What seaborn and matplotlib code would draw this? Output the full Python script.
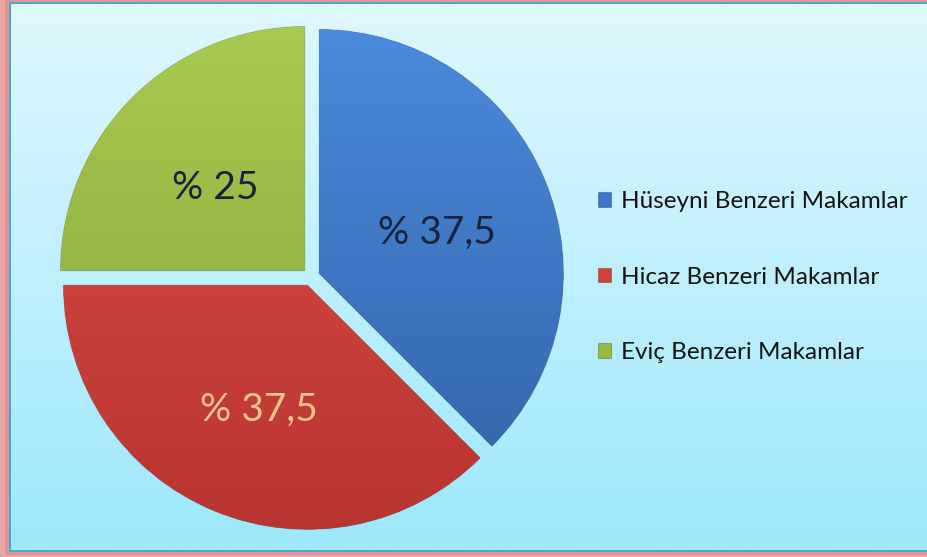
import numpy as np
import matplotlib.pyplot as plt
from matplotlib.colors import LinearSegmentedColormap
from matplotlib.patches import Rectangle
import seaborn as sns

# Data
categories = ['Hüseyni Benzeri Makamlar', 'Hicaz Benzeri Makamlar', 'Eviç Benzeri Makamlar']
shares = [37.5, 37.5, 25]
colors = ['#3E77C7', '#D3413D', '#9BBA45']
top_colors = ['#4B8CDF', '#E24E49', '#A8CB50']
bottom_colors = ['#3260A3', '#B7342F', '#84A338']
label_colors = ['#15243D', '#F8C48E', '#15243D']

sns.set_theme(style='white')
plt.rcParams['font.family'] = ['Lato', 'DejaVu Sans']

W, H = 927, 557
fig = plt.figure(figsize=(W / 100, H / 100), dpi=100)
fig.patch.set_facecolor('#E8A6A6')

# background panel with border and gradient
bg = fig.add_axes([0, 0, 1, 1])
bg.set_axis_off()
bg.add_patch(Rectangle((5, 0), W + 10, H - 2, color='#E39494', lw=0, zorder=1))
bg.add_patch(Rectangle((9, 2), W + 10, 550, color='#48A9C6', lw=0, zorder=2))
grad = np.linspace(0, 1, 256).reshape(-1, 1)
bg_cmap = LinearSegmentedColormap.from_list('bg', ['#E0F7FE', '#9DE8FC'])
bg.imshow(grad, cmap=bg_cmap, aspect='auto', extent=(11, W + 10, 550, 4), zorder=3)
bg.set_xlim(0, W)
bg.set_ylim(H, 0)

# pie axes: centre ~ (311, 277) px, radius ~ 244 px
R = 244
cx, cy = 311, H - 277
size = 2.2 * R
ax = fig.add_axes([(cx - size / 2) / W, (cy - size / 2) / H, size / W, size / H])

wedges, _, autotexts = ax.pie(
    shares, colors=colors, startangle=90, counterclock=False,
    explode=[0.037] * 3, radius=1, pctdistance=0.52,
    autopct=lambda p: f'% {p:g}'.replace('.', ','),
    wedgeprops=dict(edgecolor='#00000040', linewidth=0.8),
    textprops=dict(fontsize=28),
)
ax.set_xlim(-1.1, 1.1)
ax.set_ylim(-1.1, 1.1)
ax.set_aspect('equal')
ax.set_axis_off()

# soft vertical shading inside each slice
for w, c_top, c_bot in zip(wedges, top_colors, bottom_colors):
    cmap = LinearSegmentedColormap.from_list('s', [c_top, c_bot])
    im = ax.imshow(grad, cmap=cmap, aspect='auto', extent=(-1.1, 1.1, -1.1, 1.1), zorder=1.5)
    im.set_clip_path(w)

for t, c in zip(autotexts, label_colors):
    x, y = t.get_position()
    t.set_position((x, y - 0.03))
    t.set_color(c)
    t.set_zorder(5)

fig.legend(
    wedges, categories, loc='center left', bbox_to_anchor=(598 / W, 280 / H),
    frameon=False, fontsize=17.5, labelcolor='#141414',
    handlelength=0.55, handleheight=0.55, handletextpad=0.4,
    labelspacing=2.25, borderpad=0, borderaxespad=0,
)

fig.savefig('out.png', dpi=100)
